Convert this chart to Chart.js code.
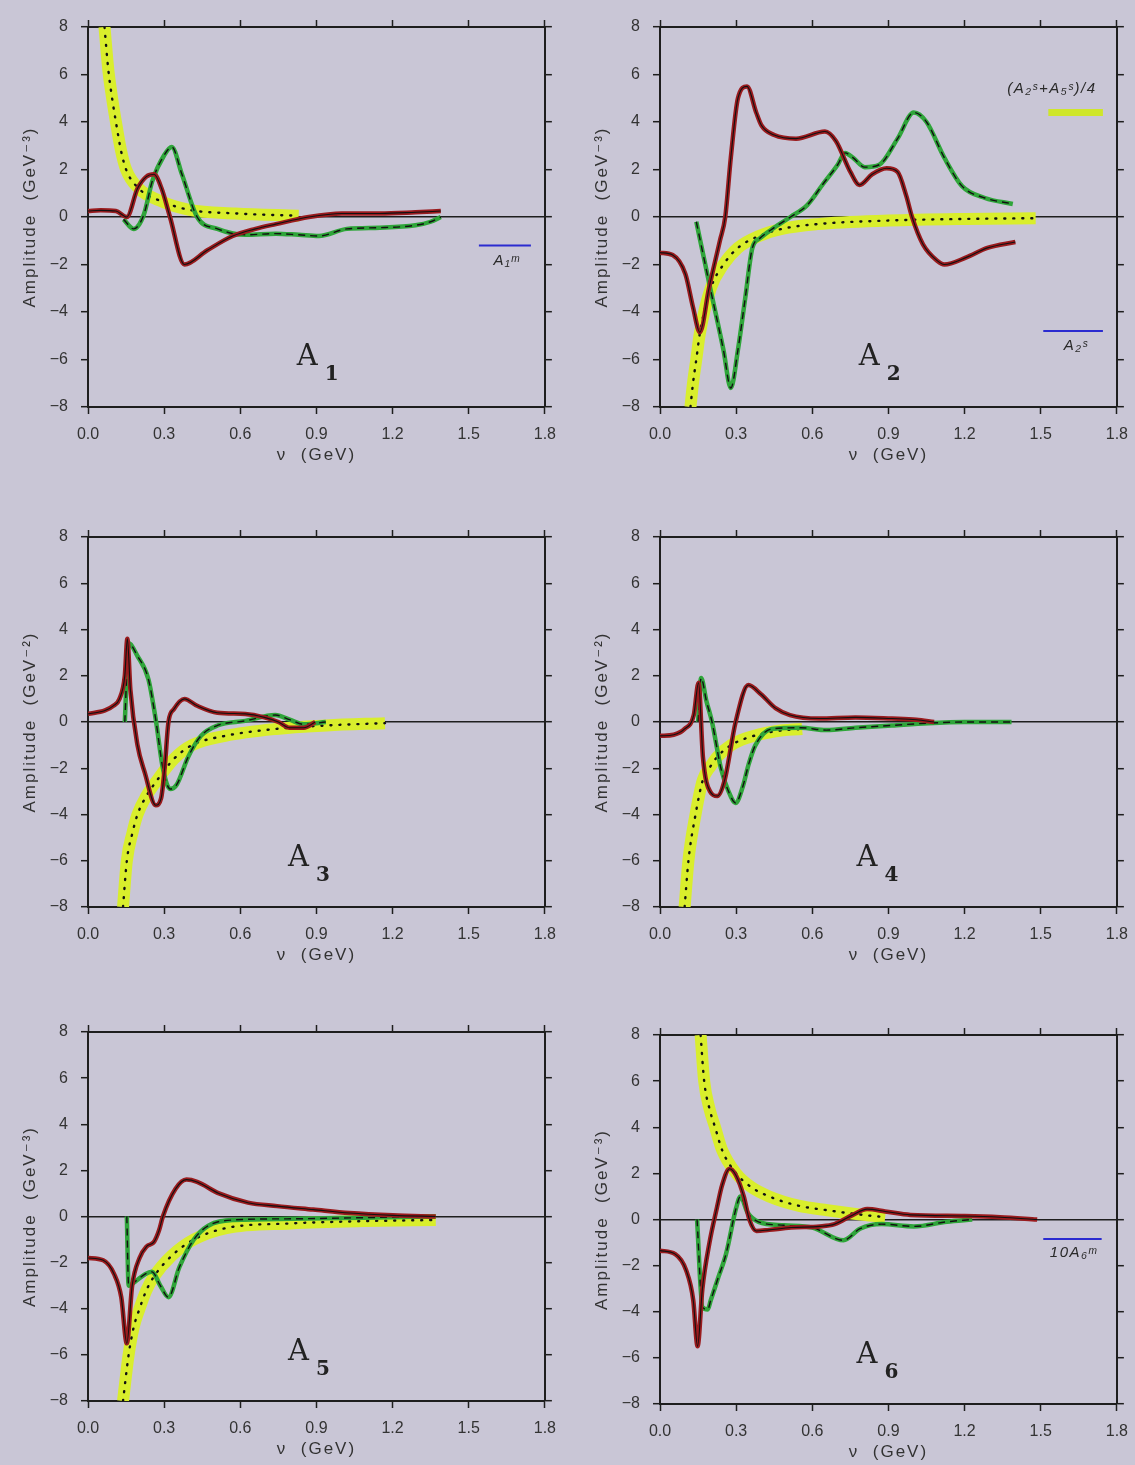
<!DOCTYPE html>
<html>
<head>
<meta charset="utf-8">
<script src="https://cdn.jsdelivr.net/npm/chart.js@4.4.1/dist/chart.umd.min.js"></script>
<style>
  body { margin: 0; background: #c9c6d6; overflow: hidden; width: 1135px; height: 1465px; position: relative; }
  canvas { position: absolute; }
</style>
</head>
<body>
<canvas id="a1" width="567" height="467" style="left:0;top:0"></canvas>
<canvas id="a2" width="567" height="467" style="left:572px;top:0"></canvas>
<canvas id="a3" width="567" height="457" style="left:0;top:510px"></canvas>
<canvas id="a4" width="567" height="457" style="left:572px;top:510px"></canvas>
<canvas id="a5" width="567" height="456" style="left:0;top:1005px"></canvas>
<canvas id="a6" width="567" height="456" style="left:572px;top:1008px"></canvas>
<script>
// axis ticks
const nuTicks = [0, 0.3, 0.6, 0.9, 1.2, 1.5, 1.8];
const ampTicks = [-8, -6, -4, -2, 0, 2, 4, 6, 8];
const ampUnits = ['GeV⁻³', 'GeV⁻³', 'GeV⁻²', 'GeV⁻²', 'GeV⁻³', 'GeV⁻³'];

// A1
const a1RedNu = [0, 0.05, 0.11, 0.153, 0.195, 0.23, 0.26, 0.29, 0.323, 0.38, 0.47, 0.57, 0.66, 0.74, 0.87, 1.0, 1.15, 1.29, 1.39];
const a1RedAmp = [0.25, 0.28, 0.25, 0.0, 1.2, 1.7, 1.8, 1.2, 0, -2.0, -1.4, -0.8, -0.5, -0.3, 0, 0.15, 0.15, 0.2, 0.25];
const a1GreenNu = [0.14, 0.18, 0.22, 0.253, 0.3, 0.33, 0.37, 0.43, 0.51, 0.62, 0.74, 0.83, 0.91, 1.02, 1.15, 1.29, 1.35, 1.39];
const a1GreenAmp = [-0.1, -0.5, 0.1, 1.5, 2.6, 2.95, 1.8, 0, -0.5, -0.75, -0.7, -0.75, -0.8, -0.5, -0.45, -0.35, -0.2, 0];
const a1YellowNu = [0.065, 0.08, 0.095, 0.11, 0.13, 0.15, 0.2, 0.28, 0.4, 0.58, 0.83];
const a1YellowAmp = [8, 6.2, 5, 4, 2.8, 2.0, 1.2, 0.7, 0.3, 0.15, 0.05];

// A2
const a2RedNu = [0, 0.05, 0.1, 0.13, 0.157, 0.193, 0.236, 0.257, 0.279, 0.307, 0.343, 0.379, 0.4, 0.45, 0.536, 0.65, 0.693, 0.75, 0.786, 0.836, 0.893, 0.936, 0.97, 0.993, 1.036, 1.093, 1.12, 1.207, 1.29, 1.4];
const a2RedAmp = [-1.5, -1.6, -2.4, -3.8, -4.85, -3.0, -1.0, 0, 2.5, 5.0, 5.5, 4.4, 3.85, 3.45, 3.3, 3.6, 3.2, 1.9, 1.35, 1.8, 2.05, 1.9, 0.9, 0, -1.15, -1.85, -2.0, -1.7, -1.3, -1.05];
const a2GreenNu = [0.143, 0.2, 0.25, 0.279, 0.307, 0.336, 0.364, 0.393, 0.45, 0.514, 0.58, 0.643, 0.7, 0.729, 0.76, 0.807, 0.864, 0.936, 1.0, 1.05, 1.12, 1.19, 1.28, 1.39];
const a2GreenAmp = [-0.2, -3.1, -5.6, -7.2, -5.6, -3.4, -1.3, -0.9, -0.45, 0, 0.5, 1.4, 2.2, 2.7, 2.5, 2.1, 2.2, 3.3, 4.4, 4.0, 2.5, 1.3, 0.8, 0.55];
const a2YellowNu = [0.12, 0.13, 0.143, 0.157, 0.2, 0.25, 0.307, 0.39, 0.48, 0.62, 0.9, 1.2, 1.48];
const a2YellowAmp = [-8, -7, -6, -4.9, -3.0, -2.0, -1.3, -0.8, -0.5, -0.3, -0.15, -0.08, -0.05];

// A3
const a3RedNu = [0, 0.067, 0.1, 0.124, 0.145, 0.155, 0.167, 0.195, 0.224, 0.267, 0.288, 0.302, 0.317, 0.338, 0.38, 0.43, 0.51, 0.62, 0.695, 0.75, 0.795, 0.85, 0.895];
const a3RedAmp = [0.35, 0.5, 0.7, 1.0, 2.0, 3.6, 1.4, -1.0, -2.2, -3.6, -3.3, -2.0, 0, 0.55, 1.0, 0.7, 0.4, 0.35, 0.2, 0, -0.25, -0.25, 0];
const a3GreenNu = [0.145, 0.16, 0.195, 0.238, 0.267, 0.295, 0.324, 0.35, 0.395, 0.445, 0.51, 0.62, 0.738, 0.795, 0.85, 0.937];
const a3GreenAmp = [0, 3.4, 2.85, 1.85, 0.1, -2.0, -2.9, -2.7, -1.5, -0.6, -0.15, 0.05, 0.3, 0.1, -0.1, 0];
const a3YellowNu = [0.138, 0.153, 0.175, 0.195, 0.23, 0.267, 0.338, 0.41, 0.54, 0.74, 0.94, 1.17];
const a3YellowAmp = [-8, -6, -4.8, -4, -3.2, -2.6, -1.6, -1.0, -0.6, -0.3, -0.15, -0.05];

// A4
const a4RedNu = [0, 0.054, 0.097, 0.133, 0.152, 0.169, 0.197, 0.226, 0.255, 0.298, 0.348, 0.398, 0.455, 0.512, 0.627, 0.77, 0.913, 1.01, 1.08];
const a4RedAmp = [-0.6, -0.55, -0.3, 0.3, 1.7, -1.5, -3.0, -3.2, -2.5, 0, 1.6, 1.2, 0.6, 0.3, 0.15, 0.2, 0.15, 0.1, 0];
const a4GreenNu = [0.15, 0.162, 0.183, 0.205, 0.24, 0.27, 0.298, 0.326, 0.35, 0.376, 0.44, 0.555, 0.655, 0.77, 0.913, 1.056, 1.2, 1.385];
const a4GreenAmp = [0, 1.9, 0.9, 0, -2.0, -3.0, -3.5, -2.8, -1.8, -1.0, -0.3, -0.25, -0.35, -0.25, -0.15, -0.05, 0, 0];
const a4YellowNu = [0.097, 0.112, 0.14, 0.169, 0.2, 0.226, 0.28, 0.34, 0.455, 0.56];
const a4YellowAmp = [-8, -6, -4, -2.5, -1.9, -1.5, -1.0, -0.7, -0.4, -0.3];

// A5
const a5RedNu = [0, 0.06, 0.103, 0.131, 0.153, 0.174, 0.203, 0.231, 0.26, 0.28, 0.295, 0.345, 0.388, 0.43, 0.516, 0.63, 0.745, 0.887, 1.03, 1.2, 1.37];
const a5RedAmp = [-1.8, -1.9, -2.5, -3.5, -5.5, -3.0, -1.8, -1.3, -1.1, -0.6, 0, 1.2, 1.6, 1.5, 1.0, 0.6, 0.45, 0.3, 0.15, 0.05, 0];
const a5GreenNu = [0.153, 0.16, 0.188, 0.225, 0.252, 0.285, 0.317, 0.36, 0.417, 0.474, 0.574, 0.8, 1.09, 1.37];
const a5GreenAmp = [0, -3.0, -2.8, -2.5, -2.4, -3.0, -3.5, -2.2, -1.0, -0.4, -0.15, -0.1, -0.05, 0];
const a5YellowNu = [0.138, 0.16, 0.18, 0.203, 0.23, 0.26, 0.33, 0.417, 0.545, 0.8, 1.09, 1.37];
const a5YellowAmp = [-8, -6, -4.8, -4, -3.2, -2.6, -1.7, -1.0, -0.5, -0.3, -0.2, -0.15];

// A6
const a6RedNu = [0, 0.06, 0.103, 0.131, 0.148, 0.167, 0.195, 0.224, 0.245, 0.274, 0.3, 0.33, 0.352, 0.38, 0.43, 0.516, 0.63, 0.688, 0.76, 0.816, 0.887, 0.987, 1.2, 1.34, 1.486];
const a6RedAmp = [-1.35, -1.5, -2.2, -3.5, -5.5, -3.0, -1.0, 0.5, 1.5, 2.2, 1.9, 1.0, 0, -0.5, -0.45, -0.35, -0.3, -0.2, 0.2, 0.45, 0.35, 0.2, 0.15, 0.1, 0];
const a6GreenNu = [0.146, 0.167, 0.188, 0.2, 0.23, 0.26, 0.3, 0.317, 0.345, 0.388, 0.488, 0.6, 0.723, 0.788, 0.873, 1.0, 1.13, 1.23];
const a6GreenAmp = [0, -3.8, -3.9, -3.5, -2.5, -1.5, 0.5, 1.0, 0.3, -0.1, -0.25, -0.35, -0.9, -0.4, -0.2, -0.3, -0.1, 0];
const a6YellowNu = [0.16, 0.174, 0.195, 0.217, 0.245, 0.3, 0.36, 0.43, 0.545, 0.66, 0.8, 0.887];
const a6YellowAmp = [8, 6, 4.8, 4, 3, 2, 1.4, 1.0, 0.6, 0.4, 0.2, 0.1];

const frameColor = '#1e1e1e';
const keyBlue = '#2b2bd0';
const textFont = '"Liberation Sans", "DejaVu Sans", sans-serif';

Chart.defaults.font.family = textFont;
Chart.defaults.color = '#333';
Chart.defaults.animation = false;

// axis titles, drawn letter-spaced like old typeset figures
const axisTitles = {
  id: 'axisTitles',
  afterDraw(chart, args, opts) {
    const { ctx, chartArea: a } = chart;
    ctx.save();
    ctx.fillStyle = '#333';
    ctx.letterSpacing = '2px';
    ctx.textAlign = 'center';
    ctx.textBaseline = 'middle';
    ctx.font = '17px ' + textFont;
    ctx.fillText('ν  (GeV)', (a.left + a.right) / 2, a.bottom + 48);
    ctx.translate(30, (a.top + a.bottom) / 2);
    ctx.rotate(-Math.PI / 2);
    ctx.fillText('Amplitude  (' + opts.unit + ')', 0, 0);
    ctx.restore();
  }
};

// big "A_n" tag inside each plot
const panelTag = {
  id: 'panelTag',
  afterDraw(chart, args, opts) {
    const { ctx, chartArea: a } = chart;
    const x = a.left + opts.fx * (a.right - a.left);
    const y = a.top + 0.89 * (a.bottom - a.top);
    ctx.save();
    ctx.fillStyle = '#222';
    ctx.textBaseline = 'alphabetic';
    ctx.font = '29px "DejaVu Serif", serif';
    ctx.fillText('A', x, y);
    const w = ctx.measureText('A').width;
    ctx.font = 'bold 20px "DejaVu Serif", serif';
    ctx.fillText(opts.sub, x + w + 7, y + 15);
    ctx.restore();
  }
};

// short key lines with their captions
const keyLines = {
  id: 'keyLines',
  afterDatasetsDraw(chart, args, opts) {
    const { ctx, scales: { x, y } } = chart;
    (opts.items || []).forEach(k => {
      const py = y.getPixelForValue(k.at);
      ctx.save();
      ctx.strokeStyle = k.color;
      ctx.lineWidth = k.width;
      ctx.beginPath();
      ctx.moveTo(x.getPixelForValue(k.from), py);
      ctx.lineTo(x.getPixelForValue(k.to), py);
      ctx.stroke();
      ctx.fillStyle = '#2a2a2a';
      ctx.letterSpacing = '1.5px';
      ctx.font = 'italic 15px ' + textFont;
      ctx.textAlign = k.align || 'center';
      ctx.textBaseline = 'middle';
      ctx.fillText(k.text, x.getPixelForValue(k.tx), py + k.dy);
      ctx.restore();
    });
  }
};

function pts(nu, amp) {
  return nu.map((v, i) => ({ x: v, y: amp[i] }));
}

function traces(red, green, yellow) {
  return [
    { data: red, borderColor: '#111', borderWidth: 1.1 },
    { data: red, borderColor: '#9a1b1e', borderWidth: 4.5 },
    { data: green, borderColor: '#111', borderWidth: 1.4, borderDash: [7, 5] },
    { data: green, borderColor: '#2fa53a', borderWidth: 4.5 },
    { data: yellow, borderColor: '#111', borderWidth: 2.4, borderDash: [1, 8], borderCapStyle: 'round' },
    { data: yellow, borderColor: '#d9ee2c', borderWidth: 12 }
  ].map(d => Object.assign(d, { pointRadius: 0, fill: false, cubicInterpolationMode: 'monotone' }));
}

function nuAxis(pos) {
  const top = pos === 'top';
  return {
    type: 'linear', position: pos, min: 0, max: 1.8,
    afterBuildTicks: s => { s.ticks = nuTicks.map(v => ({ value: v })); },
    afterFit: s => { s.height = top ? 10 : 60; },
    ticks: { display: !top, padding: 11, font: { size: 16 }, callback: v => v.toFixed(1) },
    grid: { drawOnChartArea: false, tickLength: 7, tickColor: frameColor, tickWidth: 1.5 },
    border: { color: frameColor, width: 2 }
  };
}

function ampAxis(pos) {
  const right = pos === 'right';
  return {
    type: 'linear', position: pos, min: -8, max: 8,
    afterBuildTicks: s => { s.ticks = ampTicks.map(v => ({ value: v })); },
    afterFit: s => { s.width = right ? 10 : 78; },
    ticks: { display: !right, padding: 13, font: { size: 16 }, callback: v => v < 0 ? '−' + Math.abs(v) : String(v) },
    grid: {
      drawOnChartArea: !right,
      color: c => (c.tick && c.tick.value === 0) ? frameColor : 'rgba(0,0,0,0)',
      lineWidth: 1.4, tickLength: 7, tickColor: frameColor, tickWidth: 1.5
    },
    border: { color: frameColor, width: 2 }
  };
}

function makePanel(id, sub, fx, unit, red, green, yellow, keys) {
  return new Chart(document.getElementById(id), {
    type: 'line',
    data: { datasets: traces(red, green, yellow) },
    options: {
      responsive: false,
      devicePixelRatio: 1,
      layout: { padding: { left: 10, right: 10, top: 17, bottom: 0 } },
      scales: {
        x: nuAxis('bottom'),
        xTop: nuAxis('top'),
        y: ampAxis('left'),
        yRight: ampAxis('right')
      },
      plugins: {
        legend: { display: false },
        tooltip: { enabled: false },
        axisTitles: { unit: unit },
        panelTag: { sub: sub, fx: fx },
        keyLines: { items: keys }
      }
    },
    plugins: [axisTitles, panelTag, keyLines]
  });
}

makePanel('a1', '1', 0.457, ampUnits[0], pts(a1RedNu, a1RedAmp), pts(a1GreenNu, a1GreenAmp), pts(a1YellowNu, a1YellowAmp), [
  { from: 1.54, to: 1.745, at: -1.2, color: keyBlue, width: 2, text: 'A₁ᵐ', tx: 1.65, dy: 15 }
]);
makePanel('a2', '2', 0.435, ampUnits[1], pts(a2RedNu, a2RedAmp), pts(a2GreenNu, a2GreenAmp), pts(a2YellowNu, a2YellowAmp), [
  { from: 1.53, to: 1.745, at: 4.4, color: '#cfe62a', width: 7, text: '(A₂ˢ+A₅ˢ)/4', tx: 1.72, align: 'right', dy: -24 },
  { from: 1.51, to: 1.745, at: -4.8, color: keyBlue, width: 2, text: 'A₂ˢ', tx: 1.64, dy: 15 }
]);
makePanel('a3', '3', 0.438, ampUnits[2], pts(a3RedNu, a3RedAmp), pts(a3GreenNu, a3GreenAmp), pts(a3YellowNu, a3YellowAmp), []);
makePanel('a4', '4', 0.43, ampUnits[3], pts(a4RedNu, a4RedAmp), pts(a4GreenNu, a4GreenAmp), pts(a4YellowNu, a4YellowAmp), []);
makePanel('a5', '5', 0.438, ampUnits[4], pts(a5RedNu, a5RedAmp), pts(a5GreenNu, a5GreenAmp), pts(a5YellowNu, a5YellowAmp), []);
makePanel('a6', '6', 0.43, ampUnits[5], pts(a6RedNu, a6RedAmp), pts(a6GreenNu, a6GreenAmp), pts(a6YellowNu, a6YellowAmp), [
  { from: 1.51, to: 1.74, at: -0.85, color: keyBlue, width: 2, text: '10A₆ᵐ', tx: 1.63, dy: 14 }
]);
</script>
</body>
</html>
